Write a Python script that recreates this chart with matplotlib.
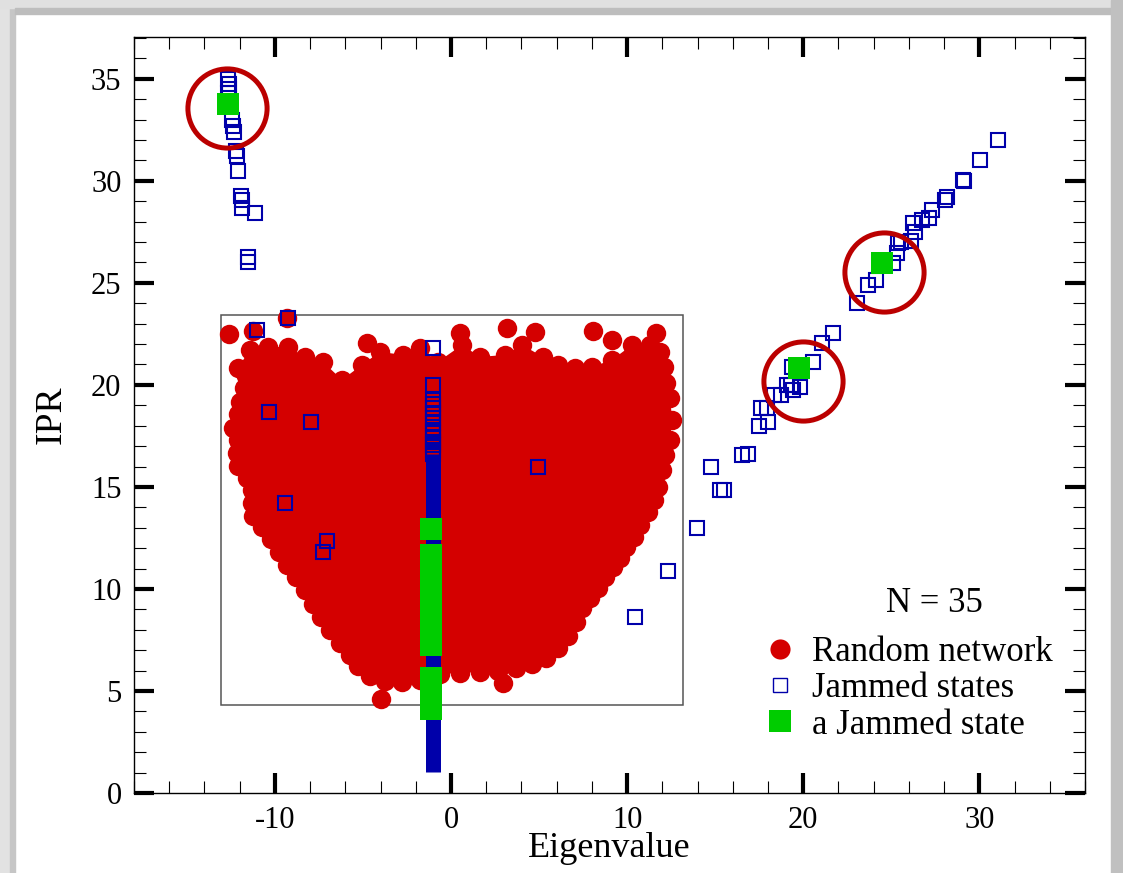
import matplotlib
matplotlib.use("Agg")
import matplotlib.pyplot as plt
from matplotlib.patches import Rectangle
from matplotlib.lines import Line2D
from matplotlib.ticker import MultipleLocator

plt.rcParams["font.family"] = ["Liberation Serif", "DejaVu Serif"]
plt.rcParams["axes.unicode_minus"] = False

# Random network: circle centres along the edge of the dense cloud (clockwise)
cloud_x = [-12.10, -11.42, -10.40, -9.26, -8.30, -7.27, -6.19, -5.06, -4.03, -2.73,
           -1.76, -0.74, 0.63, 1.65, 3.07, 4.03, 5.23, 6.08, 7.05, 8.01,
           9.15, 10.28, 11.31, 11.88,
           12.10, 12.22, 12.44, 12.56, 12.44, 12.16, 11.99, 11.76, 11.53, 11.19,
           10.74, 10.40, 9.94, 9.60, 9.20, 8.75, 8.35, 7.90, 7.44, 7.10,
           6.65, 6.08, 5.40, 4.60, 3.69, 2.67,
           1.65, 0.51, -0.63, -1.76, -2.78, -3.75, -4.60,
           -5.28, -5.74, -6.31, -6.88, -7.39, -7.84, -8.30, -8.81, -9.32, -9.77,
           -10.23, -10.74, -11.25, -11.31, -11.31, -11.59, -12.10, -12.16, -12.10, -12.39,
           -12.10, -11.99, -11.76, -11.65]
cloud_y = [20.83, 21.72, 21.86, 21.86, 21.37, 21.13, 20.25, 20.98, 21.62, 21.47,
           21.81, 21.13, 21.96, 21.37, 21.47, 21.96, 21.37, 20.98, 20.83, 20.88,
           21.23, 21.96, 21.96, 21.62,
           20.88, 20.10, 19.36, 18.28, 17.30, 16.57, 15.83, 15.00, 14.36, 13.77,
           13.14, 12.55, 12.06, 11.52, 11.08, 10.59, 10.05, 9.56, 9.07, 8.38,
           7.70, 7.11, 6.62, 6.32, 6.13, 5.98,
           5.93, 5.88, 5.83, 5.54, 5.44, 5.49, 5.74,
           6.23, 6.76, 7.35, 7.99, 8.63, 9.26, 9.95, 10.59, 11.18, 11.81,
           12.45, 13.04, 13.58, 14.22, 14.85, 15.44, 16.03, 16.67, 17.30, 17.89,
           18.58, 19.17, 19.85, 20.44]

# Random network: loose points outside the cloud
loose_x = [-12.61, -11.25, -9.32, -4.77, 0.51, 3.18, 4.77, 8.07, 9.15, 11.65, -3.98, 2.95]
loose_y = [22.50, 22.65, 23.28, 22.06, 22.55, 22.79, 22.60, 22.65, 22.21, 22.55, 4.61, 5.39]

# Jammed states
jam_x = [-12.67, -12.61, -12.61, -12.67, -12.44, -12.39, -12.33, -12.22, -12.16, -12.10,
         -11.93, -11.88, -11.88, -11.14, -11.53, -11.53,
         -11.02, -9.26, -10.34, -7.95, -9.43, -7.05, -7.27, -1.02, 4.94, 10.45,
         12.33, 13.95,
         14.77, 15.30, 15.50, 16.55, 16.85, 17.50, 17.60, 18.01, 17.95, 18.35,
         18.75, 19.09, 19.30, 19.43, 19.80, 19.38, 20.57, 21.08, 21.70, 23.07,
         23.69, 24.15, 25.11, 25.34, 25.40, 25.57, 26.14, 26.36, 26.25, 26.76,
         27.16, 27.33, 28.07, 28.18, 29.09, 29.12, 30.06, 31.08]
jam_y = [35.00, 34.75, 34.50, 34.30, 33.00, 32.70, 32.40, 31.47, 31.20, 30.49,
         29.26, 29.07, 28.68, 28.43, 26.27, 26.03,
         22.70, 23.28, 18.68, 18.19, 14.22, 12.35, 11.81, 21.81, 15.98, 8.63,
         10.88, 12.97,
         15.98, 14.85, 14.85, 16.55, 16.62, 17.99, 18.87, 18.19, 18.87, 19.50,
         19.51, 20.00, 20.00, 19.75, 19.90, 20.88, 21.13, 22.06, 22.55, 24.02,
         24.90, 25.15, 25.98, 26.47, 26.96, 27.00, 27.06, 27.50, 27.94, 28.09,
         28.19, 28.58, 29.07, 29.20, 30.05, 30.00, 31.03, 32.00]

# Jammed states near eigenvalue -1: separate ones on top, a dense run below
stack_x = -1.02
stack_y = [20.00, 19.28, 19.08, 18.87, 18.63, 18.38, 18.14, 17.79, 17.65, 17.42,
           17.20, 17.05, 16.83, 16.63]
stack_lo, stack_hi = 1.05, 16.6

# a Jammed state
one_x = [-12.67, 19.77, 24.49] + [-1.15] * 11
one_y = [33.77, 20.83, 25.98, 12.92, 11.64, 10.90, 10.10, 9.30, 8.50, 7.80, 7.23,
         5.66, 4.90, 4.14]

# highlighted points
ring_x = [-12.74, 20.01, 24.56]
ring_y = [33.55, 20.20, 25.54]

red = "#d40000"
blue = "#0000aa"
green = "#00cc00"

fig = plt.figure(figsize=(11.23, 8.73), dpi=100)
ax = fig.add_axes([134 / 1123, 1 - 793 / 873, 951 / 1123, 756 / 873])

# window frame around the picture
fig.patches.append(Rectangle((0, 0), 10 / 1123, 1, transform=fig.transFigure, color="#e2e2e2", zorder=0))
fig.patches.append(Rectangle((10 / 1123, 0), 5 / 1123, 1, transform=fig.transFigure, color="#c6c6c6", zorder=0))
fig.patches.append(Rectangle((0, 1 - 8 / 873), 1, 8 / 873, transform=fig.transFigure, color="#e0e0e0", zorder=0))
fig.patches.append(Rectangle((15 / 1123, 1 - 14 / 873), 1, 6 / 873, transform=fig.transFigure, color="#bdbdbd", zorder=0))
fig.patches.append(Rectangle((1 - 12 / 1123, 0), 12 / 1123, 1, transform=fig.transFigure, color="#c0c0c0", zorder=0))

# box around the random network
ax.add_patch(Rectangle((-13.07, 4.31), 26.25, 19.12, fill=False, ec="#555555", lw=1.1, zorder=1))

ax.fill(cloud_x, cloud_y, color=red, lw=0, zorder=2)
ax.plot(cloud_x, cloud_y, "o", color=red, ms=14, mew=0, zorder=2)
ax.plot(loose_x, loose_y, "o", color=red, ms=14, mew=0, zorder=2)

ax.vlines(stack_x, stack_lo, stack_hi, color=blue, lw=10.8, zorder=3)
ax.plot([stack_x] * len(stack_y), stack_y, "s", mfc="none", mec=blue, ms=9.6, mew=1.5, zorder=3)
ax.plot(jam_x, jam_y, "s", mfc="none", mec=blue, ms=9.6, mew=1.5, zorder=3)
ax.plot(one_x, one_y, "s", color=green, ms=16.5, mew=0, zorder=4)
ax.plot(ring_x, ring_y, "o", mfc="none", mec="#bb0000", ms=57, mew=3.6, zorder=5)

ax.set_xlim(-18, 36)
ax.set_ylim(0, 37.05)
ax.xaxis.set_major_locator(MultipleLocator(10))
ax.xaxis.set_minor_locator(MultipleLocator(2))
ax.yaxis.set_major_locator(MultipleLocator(5))
ax.yaxis.set_minor_locator(MultipleLocator(1))
ax.tick_params(which="major", direction="in", length=14.4, width=3, top=True, right=True,
               labelsize=22, pad=9)
ax.tick_params(which="minor", direction="in", length=8.5, width=0.8, top=True, right=True)
for s in ax.spines.values():
    s.set_linewidth(1.0)

ax.set_xlabel("Eigenvalue", fontsize=26, labelpad=-2)
ax.set_ylabel("IPR", fontsize=27, labelpad=16)

ax.text(0.842, 0.251, "N = 35", transform=ax.transAxes, ha="center", va="center", fontsize=25)
handles = [
    Line2D([], [], ls="none", marker="o", color=red, ms=14.5, mew=0),
    Line2D([], [], ls="none", marker="s", mfc="none", mec=blue, ms=9.6, mew=1.0),
    Line2D([], [], ls="none", marker="s", color=green, ms=16.5, mew=0),
]
ax.legend(handles, ["Random network", "Jammed states", "a Jammed state"], frameon=False,
          fontsize=25, loc="lower left", bbox_to_anchor=(0.645, 0.045), handlelength=0.9,
          handletextpad=0.45, labelspacing=0.1, borderpad=0)

fig.savefig("out.png", dpi=100)
